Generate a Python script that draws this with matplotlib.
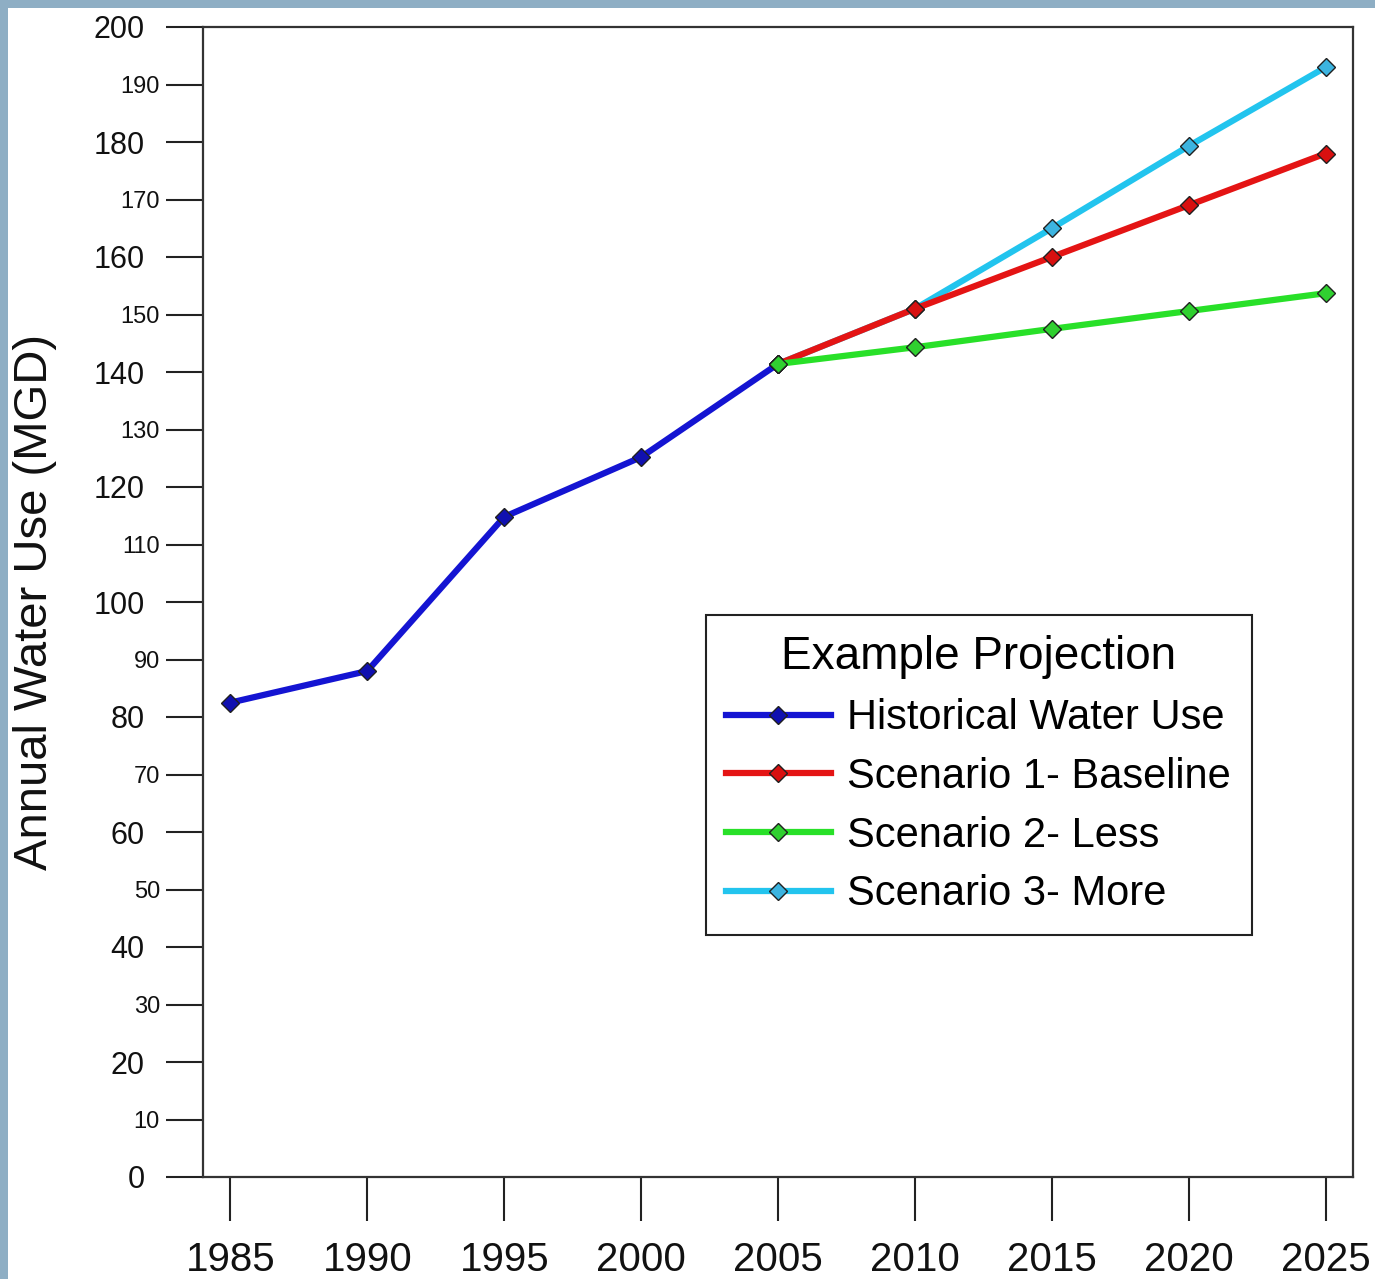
import numpy as np
import matplotlib.pyplot as plt
from matplotlib.patches import Rectangle

plt.rcParams['font.family'] = ['Liberation Sans', 'DejaVu Sans']

# data
hist_years = [1985, 1990, 1995, 2000, 2005]
hist_use = [82.5, 88, 114.8, 125.2, 141.4]

proj_years = [2005, 2010, 2015, 2020, 2025]
scen1_use = [141.4, 151, 160, 169, 178]
scen2_use = [141.4, 144.3, 147.5, 150.6, 153.7]
scen3_use = [141.4, 151, 165, 179.3, 193]

year_ticks = [1985, 1990, 1995, 2000, 2005, 2010, 2015, 2020, 2025]
major_y = np.arange(0, 201, 20)
minor_y = np.arange(10, 200, 20)

fig = plt.figure(figsize=(13.75, 12.79), dpi=100, facecolor='#8eaec4')
# white sheet over the bluish background strips
fig.patches.append(Rectangle((8 / 1375, 0), 1, 1 - 8 / 1279,
                             transform=fig.transFigure, facecolor='white',
                             edgecolor='none', zorder=-10))

ax = fig.add_axes([203 / 1375, 1 - 1177 / 1279, 1150 / 1375, 1150 / 1279])

kw = dict(lw=4.5, marker='D', markersize=9, markeredgecolor='#202020',
          markeredgewidth=1)
ax.plot(hist_years, hist_use, color='#1414d2', markerfacecolor='#1010b0',
        label='Historical Water Use', zorder=3, **kw)
ax.plot(proj_years, scen3_use, color='#22c4ee', markerfacecolor='#3cb4e0',
        label='Scenario 3- More', zorder=4, **kw)
ax.plot(proj_years, scen1_use, color='#e41414', markerfacecolor='#d81010',
        label='Scenario 1- Baseline', zorder=5, **kw)
ax.plot(proj_years, scen2_use, color='#28e028', markerfacecolor='#30d030',
        label='Scenario 2- Less', zorder=6, **kw)

ax.set_xlim(1984, 2026)
ax.set_ylim(0, 200)

ax.set_xticks(year_ticks)
ax.set_xticklabels([str(y) for y in year_ticks], fontsize=29, color='#111111')
ax.set_yticks(major_y)
ax.set_yticklabels([str(v) for v in major_y], fontsize=22, color='#111111')
ax.set_yticks(minor_y, minor=True)
ax.set_yticklabels([str(v) for v in minor_y], minor=True, fontsize=17,
                   color='#111111')

ax.tick_params(axis='x', direction='out', length=32, width=1.5, pad=14,
               color='#222222')
ax.tick_params(axis='y', which='major', direction='out', length=27, width=1.5,
               pad=15, color='#222222')
ax.tick_params(axis='y', which='minor', direction='out', length=27, width=1.5,
               pad=4, color='#222222')

for s in ax.spines.values():
    s.set_linewidth(1.6)
    s.set_color('#333333')

ax.set_ylabel('Annual Water Use (MGD)', fontsize=34, color='#111111',
              va='center')
ax.yaxis.set_label_coords(-0.146, 0.5)

handles, labels = ax.get_legend_handles_labels()
order = [0, 2, 3, 1]
leg = ax.legend([handles[i] for i in order], [labels[i] for i in order],
                title='Example Projection', title_fontsize=33, fontsize=30,
                loc='upper left', bbox_to_anchor=(0.437, 0.489),
                borderaxespad=0, fancybox=False, framealpha=1,
                edgecolor='#222222', handlelength=2.5, handletextpad=0.4,
                labelspacing=0.45, borderpad=0.5, numpoints=1)
leg.get_frame().set_linewidth(1.5)

fig.savefig('out.png', dpi=100, facecolor=fig.get_facecolor())
